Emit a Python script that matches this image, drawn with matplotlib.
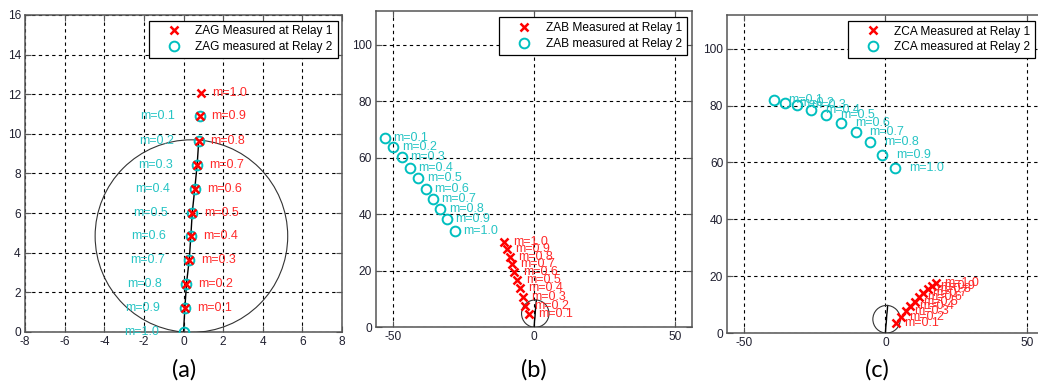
import matplotlib
matplotlib.use("Agg")
import matplotlib.pyplot as plt
from matplotlib.patches import Circle

plt.rcParams['font.family'] = ['Liberation Sans', 'DejaVu Sans']
plt.rcParams['axes.unicode_minus'] = False

# ---------------- data ----------------
m_labels = ["m=0.1", "m=0.2", "m=0.3", "m=0.4", "m=0.5",
            "m=0.6", "m=0.7", "m=0.8", "m=0.9", "m=1.0"]

# (a) ZAG
ag_r1_x = [0.07, 0.15, 0.29, 0.37, 0.44, 0.57, 0.69, 0.77, 0.82, 0.86]
ag_r1_y = [1.21, 2.44, 3.65, 4.83, 6.01, 7.24, 8.45, 9.66, 10.89, 12.05]
ag_r2_x = [0.82, 0.77, 0.69, 0.57, 0.44, 0.37, 0.29, 0.15, 0.07, 0.0]
ag_r2_y = [10.89, 9.66, 8.45, 7.24, 6.01, 4.83, 3.65, 2.44, 1.21, 0.0]

# (b) ZAB
ab_r1_x = [-1.7, -3.1, -4.0, -5.0, -5.9, -7.0, -7.8, -8.6, -9.6, -10.5]
ab_r1_y = [4.6, 7.5, 10.6, 13.8, 16.6, 19.6, 22.4, 25.0, 27.7, 30.3]
ab_r2_x = [-52.9, -49.9, -46.9, -44.0, -41.0, -38.4, -35.8, -33.2, -30.9, -28.1]
ab_r2_y = [67.1, 63.8, 60.2, 56.5, 53.0, 49.0, 45.4, 41.8, 38.2, 34.2]

# (c) ZCA
ca_r1_x = [3.7, 5.5, 7.3, 8.8, 10.5, 11.9, 13.4, 15.0, 16.5, 17.9]
ca_r1_y = [3.4, 5.75, 7.8, 9.5, 11.0, 12.6, 14.0, 15.4, 16.6, 17.6]
ca_r2_x = [-39.5, -35.7, -31.3, -26.2, -21.0, -15.7, -10.6, -5.6, -1.2, 3.3]
ca_r2_y = [82.1, 81.1, 80.1, 78.6, 76.7, 74.0, 70.8, 67.1, 62.5, 57.9]

# reference line impedance and mho circle
line_x = [0.0, 0.07, 0.15, 0.29, 0.37, 0.44, 0.57, 0.69, 0.77]
line_y = [0.0, 1.21, 2.44, 3.65, 4.83, 6.01, 7.24, 8.45, 9.66]
mho_cx, mho_cy, mho_r = 0.4, 4.84, 4.86

a_xticks = [-8, -6, -4, -2, 0, 2, 4, 6, 8]
a_yticks = [0, 2, 4, 6, 8, 10, 12, 14, 16]
bc_xticks = [-50, 0, 50]
bc_yticks = [0, 20, 40, 60, 80, 100]

legend_a = ["ZAG Measured at Relay 1", "ZAG measured at Relay 2"]
legend_b = ["ZAB Measured at Relay 1", "ZAB measured at Relay 2"]
legend_c = ["ZCA Measured at Relay 1", "ZCA measured at Relay 2"]
captions = ["(a)", "(b)", "(c)"]

RED = '#ff0000'
CYAN = '#00bfbf'
RED_T = '#ff2a2a'
CYAN_T = '#26c4c4'
SPINE = '#555555'

W, H = 1038, 385
fig = plt.figure(figsize=(W / 100, H / 100), dpi=100)


def px_axes(left, right, top, bottom):
    return fig.add_axes([left / W, (H - bottom) / H, (right - left) / W, (bottom - top) / H])


def style(ax, xlim, ylim, xt, yt):
    ax.set_xlim(*xlim)
    ax.set_ylim(*ylim)
    ax.set_xticks(xt)
    ax.set_yticks(yt)
    ax.grid(True, color='black', linestyle=(0, (3, 3)), linewidth=0.8)
    ax.set_axisbelow(True)
    for s in ax.spines.values():
        s.set_color(SPINE)
        s.set_linewidth(1.1)
    ax.tick_params(direction='in', length=4, width=0.8, color=SPINE,
                   top=True, right=True, labelsize=8.6, labelcolor='#202030',
                   pad=3)


def draw_panel(ax, r1x, r1y, r2x, r2y, labels, dx1, dx2, leg, anchor):
    ax.plot(line_x, line_y, color='black', lw=1.0, zorder=3)
    ax.add_patch(Circle((mho_cx, mho_cy), mho_r, fill=False,
                        edgecolor='#333333', lw=0.8, zorder=3))
    h1, = ax.plot(r1x, r1y, 'x', color=RED, ms=6, mew=1.8, ls='none', zorder=5)
    h2, = ax.plot(r2x, r2y, 'o', mfc='none', mec=CYAN, ms=7, mew=1.4,
                  ls='none', zorder=4)
    for x, y, t in zip(r1x, r1y, labels):
        ax.text(x + dx1, y, t, color=RED_T, fontsize=9.0, ha='left',
                va='center', zorder=6)
    for x, y, t in zip(r2x, r2y, labels):
        ax.text(x + dx2, y, t, color=CYAN_T, fontsize=9.0, ha='left',
                va='center', zorder=6)
    lg = ax.legend([h1, h2], leg, loc='upper right', bbox_to_anchor=anchor,
                   borderaxespad=0, fancybox=False, framealpha=1,
                   edgecolor='black', fontsize=8.6, handlelength=3.4,
                   handletextpad=0.1, borderpad=0.4, labelspacing=0.32)
    lg.get_frame().set_linewidth(0.9)
    lg.set_zorder(10)


# (a)
axa = px_axes(25, 342, 15, 332)
style(axa, (-8, 8), (0, 16), a_xticks, a_yticks)
draw_panel(axa, ag_r1_x, ag_r1_y, ag_r2_x, ag_r2_y, m_labels, 0.6, -3.0,
           legend_a, (0.986, 0.982))

# (b)
axb = px_axes(376, 692.3, 11, 327.3)
style(axb, (-56, 56), (0, 112), bc_xticks, bc_yticks)
draw_panel(axb, ab_r1_x, ab_r1_y, ab_r2_x, ab_r2_y, m_labels, 3.0, 3.0,
           legend_b, (0.982, 0.980))

# (c)
axc = px_axes(727.3, 1043.6, 14.7, 333)
style(axc, (-56, 56), (0, 112), bc_xticks, bc_yticks)
draw_panel(axc, ca_r1_x, ca_r1_y, ca_r2_x, ca_r2_y, m_labels, 3.0, 5.0,
           legend_c, (0.973, 0.981))

for cx, cap in zip([183.7, 534, 876.7], captions):
    fig.text(cx / W, (H - 370) / H, cap, ha='center', va='center',
             fontsize=17, family=['Lato', 'DejaVu Sans'], color='black')

fig.savefig('out.png', dpi=100)
